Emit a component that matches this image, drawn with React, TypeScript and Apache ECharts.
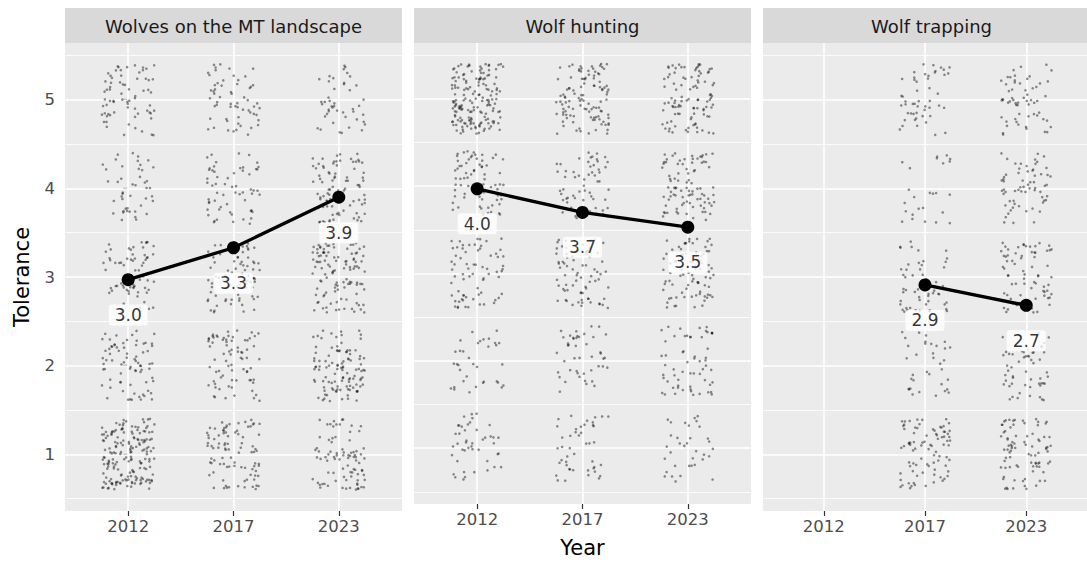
import React, { useEffect, useRef } from "react";
import * as echarts from "echarts";

// ---- data ----
const years = ["2012", "2017", "2023"];
const levels = [1, 2, 3, 4, 5];
const panelTitles = ["Wolves on the MT landscape", "Wolf hunting", "Wolf trapping"];

// number of responses per survey year (rows) and tolerance level 1..5 (columns)
const landscapeCounts = [
  [175, 75, 70, 45, 70],
  [90, 75, 80, 60, 60],
  [85, 110, 110, 90, 45],
];
const huntingCounts = [
  [45, 35, 70, 70, 165],
  [45, 45, 75, 60, 110],
  [35, 60, 85, 90, 100],
];
const trappingCounts = [
  [0, 0, 0, 0, 0],
  [85, 35, 55, 25, 50],
  [85, 55, 75, 65, 60],
];

// mean tolerance per year
const landscapeMeans: (number | null)[] = [2.97, 3.33, 3.9];
const huntingMeans: (number | null)[] = [3.97, 3.7, 3.53];
const trappingMeans: (number | null)[] = [null, 2.91, 2.68];

const yTicks = [1, 2, 3, 4, 5];
const yMinorLines = [0.5, 1.5, 2.5, 3.5, 4.5, 5.5];
const xTicks = [0, 1, 2];

const panelCounts = [landscapeCounts, huntingCounts, trappingCounts];
const panelMeans = [landscapeMeans, huntingMeans, trappingMeans];

// ---- presentation ----
const FONT = "DejaVu Sans";
const PANEL_LEFTS = [65, 414, 763];
const PANEL_W = 337;
const PANEL_TOP = 43;
const PANEL_H = 468;
const STRIP_TOP = 8;
const JITTER_W = 0.25; // geom_jitter width (category units)
const JITTER_H = 0.4; // geom_jitter height
const LABEL_NUDGE = -0.4;

// seeded generator standing in for geom_jitter's random displacement
function makeJitter(seed: number) {
  let a = seed >>> 0;
  return () => {
    a = (a + 0x6d2b79f5) >>> 0;
    let t = a;
    t = Math.imul(t ^ (t >>> 15), t | 1);
    t ^= t + Math.imul(t ^ (t >>> 7), t | 61);
    return ((t ^ (t >>> 14)) >>> 0) / 4294967296;
  };
}

function jitterPoints(counts: number[][], seed: number) {
  const rnd = makeJitter(seed);
  const pts: number[][] = [];
  counts.forEach((row, yi) => {
    row.forEach((n, li) => {
      for (let k = 0; k < n; k++) {
        const dx = (rnd() * 2 - 1) * JITTER_W;
        const dy = (rnd() * 2 - 1) * JITTER_H;
        pts.push([yi + dx, levels[li] + dy]);
      }
    });
  });
  return pts;
}

export default function App() {
  const ref = useRef<HTMLDivElement>(null);

  useEffect(() => {
    if (!ref.current) return;
    const chart = echarts.init(ref.current, undefined, { renderer: "svg" });

    const grids: any[] = [];
    const xAxes: any[] = [];
    const yAxes: any[] = [];
    const series: any[] = [];
    const graphics: any[] = [];

    for (let p = 0; p < 3; p++) {
      grids.push({
        left: PANEL_LEFTS[p],
        top: PANEL_TOP,
        width: PANEL_W,
        height: PANEL_H,
        show: true,
        backgroundColor: "#EBEBEB",
        borderWidth: 0,
        containLabel: false,
      });
      xAxes.push({
        type: "value",
        gridIndex: p,
        min: -0.6,
        max: 2.6,
        splitLine: { show: false },
        axisLine: { show: false },
        axisTick: {
          show: true,
          customValues: xTicks,
          length: 5,
          lineStyle: { color: "#333333", width: 1.2 },
        },
        axisLabel: {
          customValues: xTicks,
          formatter: (v: number) => years[Math.round(v)],
          fontSize: 16.5,
          fontFamily: FONT,
          color: "#4D4D4D",
          margin: 7,
        },
        name: p === 1 ? "Year" : "",
        nameLocation: "middle",
        nameGap: 33,
        nameTextStyle: { fontSize: 21, fontFamily: FONT, color: "#000" },
      });
      yAxes.push({
        type: "value",
        gridIndex: p,
        min: 0.36,
        max: 5.64,
        show: p === 0,
        splitLine: { show: false },
        axisLine: { show: false },
        axisTick: {
          show: true,
          customValues: yTicks,
          length: 5,
          lineStyle: { color: "#333333", width: 1.2 },
        },
        axisLabel: {
          customValues: yTicks,
          fontSize: 16.5,
          fontFamily: FONT,
          color: "#4D4D4D",
          margin: 10,
        },
        name: p === 0 ? "Tolerance" : "",
        nameLocation: "middle",
        nameGap: 33,
        nameTextStyle: { fontSize: 21, fontFamily: FONT, color: "#000" },
      });

      // panel grid lines
      const lineData: any[] = [];
      yMinorLines.forEach((v) =>
        lineData.push({ yAxis: v, lineStyle: { color: "#FFFFFF", width: 0.8, type: "solid" } })
      );
      yTicks.forEach((v) =>
        lineData.push({ yAxis: v, lineStyle: { color: "#FFFFFF", width: 1.6, type: "solid" } })
      );
      xTicks.forEach((v) =>
        lineData.push({ xAxis: v, lineStyle: { color: "#FFFFFF", width: 1.6, type: "solid" } })
      );
      series.push({
        type: "scatter",
        xAxisIndex: p,
        yAxisIndex: p,
        data: [],
        z: 1,
        silent: true,
        markLine: {
          z: 1,
          silent: true,
          symbol: "none",
          label: { show: false },
          animation: false,
          data: lineData,
        },
      });

      // jittered responses
      series.push({
        type: "scatter",
        xAxisIndex: p,
        yAxisIndex: p,
        data: jitterPoints(panelCounts[p], 1000 + p * 77),
        symbol: "circle",
        symbolSize: 2.6,
        itemStyle: { color: "rgba(0,0,0,0.55)" },
        z: 2,
        silent: true,
      });

      // mean line
      const meanData: number[][] = [];
      panelMeans[p].forEach((m, i) => {
        if (m !== null) meanData.push([i, m]);
      });
      series.push({
        type: "line",
        xAxisIndex: p,
        yAxisIndex: p,
        data: meanData,
        symbol: "circle",
        symbolSize: 13,
        showSymbol: true,
        lineStyle: { color: "#000", width: 3.3 },
        itemStyle: { color: "#000" },
        z: 3,
        silent: true,
      });

      // mean labels
      const labelData: any[] = [];
      panelMeans[p].forEach((m, i) => {
        if (m !== null) labelData.push([i, m + LABEL_NUDGE, m.toFixed(1)]);
      });
      series.push({
        type: "scatter",
        xAxisIndex: p,
        yAxisIndex: p,
        data: labelData,
        symbolSize: 0,
        z: 4,
        silent: true,
        label: {
          show: true,
          position: "inside",
          formatter: (q: any) => q.value[2],
          backgroundColor: "#FFFFFF",
          borderRadius: 3,
          padding: [3, 6, 2, 6],
          fontSize: 17,
          lineHeight: 16,
          fontFamily: FONT,
          color: "#000",
          textBorderWidth: 0,
          textBorderColor: "transparent",
        },
      });

      // facet strip
      graphics.push({
        type: "rect",
        left: PANEL_LEFTS[p],
        top: STRIP_TOP,
        shape: { width: PANEL_W, height: PANEL_TOP - STRIP_TOP },
        style: { fill: "#D9D9D9" },
        z: 0,
      });
      graphics.push({
        type: "text",
        x: PANEL_LEFTS[p] + PANEL_W / 2,
        y: (STRIP_TOP + PANEL_TOP) / 2 + 0.5,
        style: {
          text: panelTitles[p],
          fontSize: 18,
          fontFamily: FONT,
          fill: "#1A1A1A",
          align: "center",
          verticalAlign: "middle",
        },
        z: 1,
      });
    }

    chart.setOption({
      animation: false,
      backgroundColor: "#FFFFFF",
      textStyle: { fontFamily: FONT },
      grid: grids,
      xAxis: xAxes,
      yAxis: yAxes,
      series,
      graphic: graphics,
    });

    return () => chart.dispose();
  }, []);

  return (
    <div
      ref={ref}
      style={{ position: "fixed", left: 0, top: 0, width: 1087, height: 563, background: "#fff" }}
    />
  );
}
